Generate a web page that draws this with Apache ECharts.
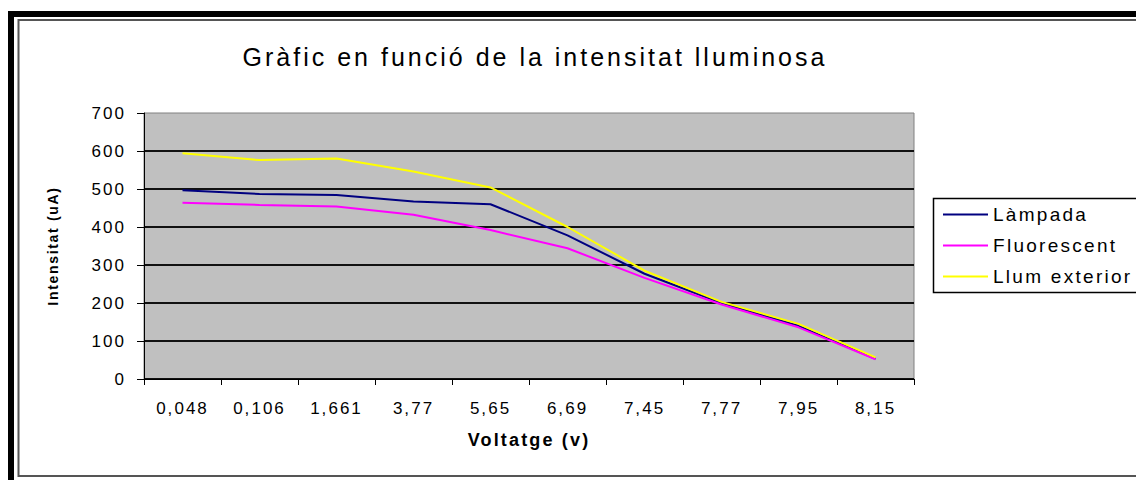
<!DOCTYPE html>
<html>
<head>
<meta charset="utf-8">
<script src="https://cdn.jsdelivr.net/npm/echarts@6/dist/echarts.min.js"></script>
<style>
html, body { margin: 0; padding: 0; background: #fff; }
#chart { width: 1136px; height: 480px; }
#chart text { letter-spacing: 0.12em; }
</style>
</head>
<body>
<div id="chart"></div>
<script>
// ---- data ----
const chartTitle = 'Gràfic en funció de la intensitat lluminosa';
const xAxisName = 'Voltatge (v)';
const yAxisName = 'Intensitat (uA)';
const categories = ['0,048', '0,106', '1,661', '3,77', '5,65', '6,69', '7,45', '7,77', '7,95', '8,15'];
const lampada = [497, 487, 484, 467, 460, 378, 277, 200, 140, 53];
const fluorescent = [464, 458, 454, 432, 392, 344, 266, 196, 136, 52];
const llumExterior = [594, 576, 580, 546, 504, 400, 285, 203, 145, 57];
const seriesNames = ['Làmpada', 'Fluorescent', 'Llum exterior'];
const yMin = 0, yMax = 700, yStep = 100;

const FONT = '"Liberation Sans", Arial, sans-serif';
const chart = echarts.init(document.getElementById('chart'), null, { renderer: 'svg' });

function lineSeries(name, data, color) {
  return {
    name: name, type: 'line', data: data, symbol: 'none', showSymbol: false,
    lineStyle: { color: color, width: 2 }, itemStyle: { color: color },
    emphasis: { disabled: true }
  };
}

chart.setOption({
  backgroundColor: '#ffffff',
  animation: false,
  title: {
    text: chartTitle, left: 535, top: 44, textAlign: 'center', padding: 0,
    textStyle: { fontFamily: FONT, fontSize: 25, fontWeight: 'normal', color: '#000' }
  },
  legend: {
    orient: 'vertical', left: 943, top: 205, padding: 0,
    icon: 'rect', itemWidth: 45, itemHeight: 2, itemGap: 12,
    textStyle: { fontFamily: FONT, fontSize: 19, color: '#000' },
    data: seriesNames
  },
  grid: {
    left: 144, right: 222, top: 113, bottom: 101,
    show: true, backgroundColor: '#c0c0c0', borderColor: '#808080', borderWidth: 1,
    containLabel: false
  },
  xAxis: {
    type: 'category', data: categories, boundaryGap: true,
    name: xAxisName, nameLocation: 'middle', nameGap: 52,
    nameTextStyle: { fontFamily: FONT, fontSize: 18, fontWeight: 'bold', color: '#000' },
    axisLine: { show: true, lineStyle: { color: '#000', width: 1 } },
    axisTick: { show: true, length: 6, alignWithLabel: false, lineStyle: { color: '#000' } },
    axisLabel: { interval: 0, margin: 21, fontFamily: FONT, fontSize: 17, color: '#000' },
    splitLine: { show: false }
  },
  yAxis: {
    type: 'value', min: yMin, max: yMax, interval: yStep,
    name: yAxisName, nameLocation: 'middle', nameGap: 84, nameRotate: 90,
    nameTextStyle: { fontFamily: FONT, fontSize: 14, fontWeight: 'bold', color: '#000' },
    axisLine: { show: true, lineStyle: { color: '#000', width: 1 } },
    axisTick: { show: true, length: 7, lineStyle: { color: '#000' } },
    axisLabel: { margin: 18, fontFamily: FONT, fontSize: 17, color: '#000' },
    splitLine: { show: true, showMaxLine: false, lineStyle: { color: '#111', width: 2 } }
  },
  series: [
    lineSeries(seriesNames[0], lampada, '#000080'),
    lineSeries(seriesNames[1], fluorescent, '#ff00ff'),
    lineSeries(seriesNames[2], llumExterior, '#ffff00')
  ],
  graphic: [
    { type: 'rect', silent: true, z: -1, shape: { x: 8, y: 11, width: 1128, height: 6 }, style: { fill: '#000' } },
    { type: 'rect', silent: true, z: -1, shape: { x: 8, y: 11, width: 6, height: 469 }, style: { fill: '#000' } },
    { type: 'rect', silent: true, z: -1, shape: { x: 18.5, y: 20, width: 1130, height: 456 }, style: { fill: 'none', stroke: '#555', lineWidth: 2 } },
    { type: 'rect', silent: true, z: -1, shape: { x: 933.5, y: 198.5, width: 220, height: 94 }, style: { fill: 'none', stroke: '#000', lineWidth: 1.5 } }
  ]
});
</script>
</body>
</html>
